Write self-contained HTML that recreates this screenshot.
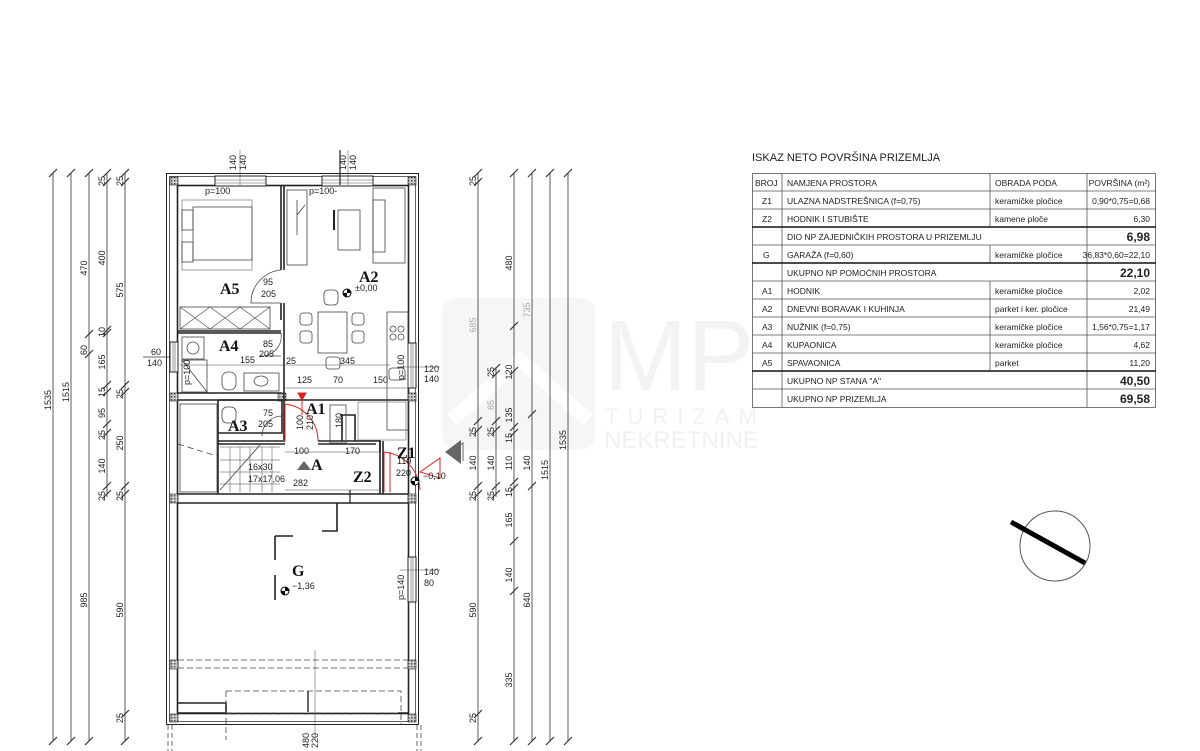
<!DOCTYPE html>
<html><head><meta charset="utf-8"><style>
html,body{margin:0;padding:0;background:#fff}
svg{display:block}
text{font-family:"Liberation Sans",sans-serif;fill:#222}
.s{font-size:9px}
.r{font-family:"Liberation Serif",serif;font-weight:bold;font-size:16px;fill:#111}
.t{font-size:8.5px;fill:#222}
.b{font-size:12px;font-weight:bold}
</style></head><body>
<svg width="1200" height="751" viewBox="0 0 1200 751" xmlns="http://www.w3.org/2000/svg">
<defs>
<pattern id="h" width="3" height="3" patternUnits="userSpaceOnUse"><rect width="3" height="3" fill="#ccc"/><rect width="1.5" height="1.5" fill="#555"/></pattern>
</defs>
<!-- watermark -->
<g opacity="0.5">
<rect x="442" y="298" width="153" height="152" rx="14" fill="#eee"/>
<path d="M452 420 L520 360 L588 420" stroke="#fff" stroke-width="14" fill="none"/>
<text x="604" y="390" style="font-size:100px;fill:#e8e8e8" textLength="150">MP</text>
<text x="605" y="424" style="font-size:22px;fill:#e4e4e4;letter-spacing:9px">TURIZAM</text>
<text x="604" y="448" style="font-size:24px;fill:#e4e4e4">NEKRETNINE</text>
</g>

<!-- left dimensions -->
<g stroke="#333" stroke-width="0.8" fill="none">
<line x1="53" y1="173" x2="53" y2="741"/>
<line x1="71" y1="173" x2="71" y2="741"/>
<line x1="89" y1="173" x2="89" y2="741"/>
<line x1="107" y1="173" x2="107" y2="497"/>
<line x1="125" y1="173" x2="125" y2="741"/>
<g stroke-width="1.2">
<path d="M49 177l8-8M67 177l8-8M85 177l8-8M103 177l8-8M121 177l8-8M103 186l8-8M121 186l8-8
M49 745l8-8M67 745l8-8M85 745l8-8M121 745l8-8M121 718l8-8
M103 334l8-8M103 337l8-8M85 338l8-8M85 358l8-8M103 389l8-8M103 396l8-8M121 396l8-8M121 389l8-8M103 428l8-8M103 437l8-8
M103 490l8-8M103 498l8-8M121 490l8-8M121 498l8-8"/>
</g>
</g>
<g class="s">
<text transform="translate(51,400) rotate(-90)" text-anchor="middle">1535</text>
<text transform="translate(69,392) rotate(-90)" text-anchor="middle">1515</text>
<text transform="translate(87,268) rotate(-90)" text-anchor="middle">470</text>
<text transform="translate(87,600) rotate(-90)" text-anchor="middle">985</text>
<text transform="translate(87,350) rotate(-90)" text-anchor="middle">60</text>
<text transform="translate(105,258) rotate(-90)" text-anchor="middle">400</text>
<text transform="translate(105,332) rotate(-90)" text-anchor="middle">10</text>
<text transform="translate(105,362) rotate(-90)" text-anchor="middle">165</text>
<text transform="translate(105,392) rotate(-90)" text-anchor="middle">15</text>
<text transform="translate(105,413) rotate(-90)" text-anchor="middle">95</text>
<text transform="translate(105,435) rotate(-90)" text-anchor="middle">25</text>
<text transform="translate(105,466) rotate(-90)" text-anchor="middle">140</text>
<text transform="translate(105,496) rotate(-90)" text-anchor="middle">25</text>
<text transform="translate(123,181) rotate(-90)" text-anchor="middle">25</text>
<text transform="translate(105,181) rotate(-90)" text-anchor="middle">25</text>
<text transform="translate(123,290) rotate(-90)" text-anchor="middle">575</text>
<text transform="translate(123,394) rotate(-90)" text-anchor="middle">25</text>
<text transform="translate(123,443) rotate(-90)" text-anchor="middle">250</text>
<text transform="translate(123,496) rotate(-90)" text-anchor="middle">25</text>
<text transform="translate(123,610) rotate(-90)" text-anchor="middle">590</text>
<text transform="translate(123,718) rotate(-90)" text-anchor="middle">25</text>
<text x="151" y="355">60</text><text x="147" y="366">140</text>
</g>
<line x1="143" y1="357" x2="178" y2="357" stroke="#333" stroke-width="0.7"/>

<!-- right dimensions -->
<g stroke="#333" stroke-width="0.8" fill="none">
<line x1="478" y1="173" x2="478" y2="741"/>
<line x1="496" y1="367" x2="496" y2="497"/>
<line x1="514" y1="173" x2="514" y2="741"/>
<line x1="532" y1="173" x2="532" y2="741"/>
<line x1="550" y1="173" x2="550" y2="741"/>
<line x1="568" y1="173" x2="568" y2="741"/>
<path stroke-width="1.2" d="M474 177l8-8M474 186l8-8M510 177l8-8M528 177l8-8M546 177l8-8M564 177l8-8
M474 745l8-8M474 718l8-8M510 745l8-8M528 745l8-8M546 745l8-8M564 745l8-8
M510 330l8-8M492 372l8-8M492 378l8-8M510 375l8-8M474 425l8-8M474 434l8-8M492 425l8-8M492 434l8-8M510 431l8-8M510 437l8-8M528 418l8-8
M474 490l8-8M474 498l8-8M492 490l8-8M492 498l8-8M510 486l8-8M510 492l8-8M528 490l8-8M510 545l8-8M510 595l8-8"/>
</g>
<g class="s">
<text transform="translate(476,181) rotate(-90)" text-anchor="middle">25</text>
<text transform="translate(476,325) rotate(-90)" text-anchor="middle" style="fill:#aaa">685</text>
<text transform="translate(476,432) rotate(-90)" text-anchor="middle">25</text>
<text transform="translate(476,463) rotate(-90)" text-anchor="middle">140</text>
<text transform="translate(476,496) rotate(-90)" text-anchor="middle">25</text>
<text transform="translate(476,610) rotate(-90)" text-anchor="middle">590</text>
<text transform="translate(476,718) rotate(-90)" text-anchor="middle">25</text>
<text transform="translate(494,372) rotate(-90)" text-anchor="middle">25</text>
<text transform="translate(494,405) rotate(-90)" text-anchor="middle" style="fill:#aaa">85</text>
<text transform="translate(494,432) rotate(-90)" text-anchor="middle">25</text>
<text transform="translate(494,463) rotate(-90)" text-anchor="middle">140</text>
<text transform="translate(494,496) rotate(-90)" text-anchor="middle">25</text>
<text transform="translate(512,263) rotate(-90)" text-anchor="middle">480</text>
<text transform="translate(512,372) rotate(-90)" text-anchor="middle">120</text>
<text transform="translate(512,415) rotate(-90)" text-anchor="middle">135</text>
<text transform="translate(512,438) rotate(-90)" text-anchor="middle">15</text>
<text transform="translate(512,463) rotate(-90)" text-anchor="middle">110</text>
<text transform="translate(512,492) rotate(-90)" text-anchor="middle">15</text>
<text transform="translate(512,520) rotate(-90)" text-anchor="middle">165</text>
<text transform="translate(512,575) rotate(-90)" text-anchor="middle">140</text>
<text transform="translate(512,680) rotate(-90)" text-anchor="middle">335</text>
<text transform="translate(530,310) rotate(-90)" text-anchor="middle" style="fill:#aaa">735</text>
<text transform="translate(530,463) rotate(-90)" text-anchor="middle">140</text>
<text transform="translate(530,600) rotate(-90)" text-anchor="middle">640</text>
<text transform="translate(548,470) rotate(-90)" text-anchor="middle">1515</text>
<text transform="translate(566,440) rotate(-90)" text-anchor="middle">1535</text>
</g>
<!-- section marker -->
<path d="M445 452 L461 440 L461 464 Z" fill="#666"/>
<path d="M450 452 L463 443 L463 461" fill="none" stroke="#666"/>

<!-- building -->
<g fill="none" stroke="#222">
<rect x="166.5" y="173.5" width="252" height="551" stroke-width="1"/>
<rect x="169.5" y="176.5" width="246" height="545" stroke-width="0.7"/>
<rect x="177.5" y="185.5" width="231" height="528" stroke-width="1.6"/>
</g>
<!-- top walls -->
<g fill="#fff" stroke="#222" stroke-width="1">
<rect x="215" y="176" width="51" height="10"/><rect x="322" y="176" width="51" height="10"/>
<rect x="408" y="343" width="8" height="45"/><rect x="170" y="342" width="8" height="30"/>
<rect x="408" y="557" width="8" height="45"/>
</g>
<g stroke="#555" stroke-width="0.6">
<line x1="215" y1="180" x2="266" y2="180"/><line x1="215" y1="183" x2="266" y2="183"/>
<line x1="322" y1="180" x2="373" y2="180"/><line x1="322" y1="183" x2="373" y2="183"/>
<line x1="411" y1="343" x2="411" y2="388"/><line x1="413" y1="343" x2="413" y2="388"/>
<line x1="173" y1="342" x2="173" y2="372"/><line x1="175" y1="342" x2="175" y2="372"/>
<line x1="411" y1="557" x2="411" y2="602"/><line x1="413" y1="557" x2="413" y2="602"/>
</g>
<!-- columns hatch -->
<g fill="url(#h)" stroke="#222" stroke-width="0.6">
<rect x="170" y="177" width="8" height="8"/><rect x="408" y="177" width="8" height="8"/>
<rect x="170" y="393" width="8" height="8"/><rect x="408" y="393" width="8" height="8"/>
<rect x="278" y="393" width="8" height="8"/>
<rect x="170" y="494" width="8" height="9"/><rect x="408" y="494" width="8" height="9"/>
<rect x="170" y="660" width="8" height="9"/><rect x="408" y="660" width="8" height="9"/>
<rect x="170" y="714" width="8" height="8"/><rect x="408" y="714" width="8" height="8"/>
</g>
<!-- interior walls -->
<g fill="none" stroke="#222" stroke-width="1.6">
<path d="M281 185 V270 M281 303 V320 M284 185 V270 M284 303 V440"/>
<path d="M178 331 H281 M178 333 H281"/>
<path d="M178 393 H282 M178 400 H282"/>
<path d="M218 400 V494 M218 400 H282 V433 H218"/>
<path d="M285 400 H408"/>
<path d="M218 441 H285 M318 441 H380 V452 M218 444 H285 M318 444 H376"/>
<path d="M380 441 V494 M383 441 V494"/>
<path d="M178 494 H408 M178 503 H408"/>
<path d="M178 713 H226 M398 713 H408 M178 703 H226 V713"/>
<path d="M340 415 H355 V441 M342 415 V441"/>
</g>
<g fill="none" stroke="#444" stroke-width="0.8">
<!-- stairs -->
<rect x="180" y="404" width="37" height="88"/>
<path d="M178 444 L217 456" stroke-dasharray="6,4"/>
<path d="M220 490 L260 445"/>
<path d="M220 447 H280 M220 460 H280 M220 472 H280 M220 484 H280" stroke-width="0.5"/>
<path d="M230 447 V492 M240 447 V492 M250 447 V492 M262 447 V492 M272 447 V492" stroke-width="0.5"/>
<!-- furniture A5 -->
<rect x="193" y="207" width="59" height="53"/>
<rect x="182" y="210" width="11" height="20"/><rect x="182" y="242" width="11" height="20"/>
<rect x="182" y="200" width="70" height="70" stroke-width="0.5"/>
<rect x="180" y="307" width="90" height="22"/>
<path d="M180 307 L210 329 M210 307 L180 329 M210 307 L240 329 M240 307 L210 329 M240 307 L270 329 M270 307 L240 329" stroke-width="0.6"/>
<!-- door arcs -->
<path d="M281 270 A33 33 0 0 0 251 303 H281"/>
<path d="M281 333 A20 20 0 0 1 259 356 H281"/>
<!-- A2 furniture -->
<rect x="373" y="188" width="32" height="75"/><rect x="373" y="200" width="12" height="52"/>
<rect x="287" y="190" width="20" height="75"/>
<path d="M297 200 V235 M297 215 L305 205" />
<rect x="338" y="210" width="22" height="40"/>
<path d="M334 210 V230" stroke-width="2" stroke="#222"/>
<rect x="318" y="312" width="29" height="41"/>
<rect x="324" y="290" width="14" height="15" rx="4"/>
<rect x="300" y="313" width="12" height="12" rx="3"/><rect x="300" y="331" width="12" height="12" rx="3"/>
<rect x="352" y="313" width="12" height="12" rx="3"/><rect x="352" y="331" width="12" height="12" rx="3"/>
<rect x="326" y="357" width="14" height="12" rx="3"/>
<rect x="387" y="312" width="21" height="118"/>
<circle cx="393" cy="329" r="3"/><circle cx="401" cy="329" r="3"/><circle cx="393" cy="337" r="3"/><circle cx="401" cy="337" r="3"/>
<rect x="389" y="368" width="16" height="12" rx="3"/>
<!-- A4 -->
<rect x="182" y="337" width="22" height="22"/><circle cx="193" cy="348" r="6"/>
<rect x="182" y="360" width="25" height="32"/>
<path d="M182 360 L207 392"/>
<rect x="222" y="372" width="14" height="18" rx="6"/>
<rect x="244" y="373" width="35" height="18"/><ellipse cx="261" cy="381" rx="7" ry="5"/>
<!-- A3 -->
<rect x="222" y="407" width="14" height="16" rx="5"/>
<path d="M282 416 A20 20 0 0 0 262 436"/>
<!-- A1 right unit -->
<rect x="330" y="405" width="16" height="38"/>
<rect x="358" y="402" width="48" height="38" stroke-width="0.5"/>
<!-- garage -->
<path d="M275 536 V560 M275 575 V600 M275 536 H293 M322 531 H337 V503" stroke="#222" stroke-width="1.6"/>
<path d="M178 660 H408 M178 668 H408 M226 691 H401 V725 M226 691 V740 M226 713 H398 M308 691 V710" stroke-dasharray="6,3"/>
<path d="M308 691 V712" stroke-width="1.4" stroke="#222"/>
<path d="M168 725 V751 M172 725 V751 M417 725 V751 M421 725 V751" stroke-dasharray="5,3"/>
<line x1="315" y1="650" x2="315" y2="740" stroke-width="0.5"/>
<line x1="350" y1="490" x2="350" y2="503" stroke="#222" stroke-width="1.2"/>
<line x1="340" y1="150" x2="340" y2="185" stroke="#222" stroke-width="1.2"/>
<line x1="240" y1="150" x2="240" y2="185" stroke-width="0.5"/>
<line x1="348" y1="150" x2="348" y2="185" stroke-width="0.5"/>
<line x1="400" y1="367" x2="440" y2="367" stroke-width="0.6"/>
<line x1="400" y1="570" x2="440" y2="570" stroke-width="0.6"/>
<!-- dim lines inside -->
<path d="M180 365 H390 M285 388 H408 M285 452 H380 M285 490 H380" stroke-width="0.6"/>
</g>
<!-- red door -->
<g fill="none" stroke="#d22" stroke-width="1">
<path d="M285 404 V441 M285 404 A37 37 0 0 1 318 441"/>
<path d="M298 393 L302 400 L306 393 Z M302 400 V415" fill="#d22"/>
<path d="M384 452 V492 M390 452 V492 M384 452 A40 40 0 0 1 420 490"/>
<path d="M420 472 L440 458 V478 Z"/>
</g>
<!-- markers -->
<g>
<circle cx="347" cy="293" r="4" fill="#fff" stroke="#000"/><path d="M347 289 A4 4 0 0 1 351 293 H347Z M347 297 A4 4 0 0 1 343 293 H347Z" fill="#000"/>
<circle cx="285" cy="591" r="4" fill="#fff" stroke="#000"/><path d="M285 587 A4 4 0 0 1 289 591 H285Z M285 595 A4 4 0 0 1 281 591 H285Z" fill="#000"/>
<circle cx="415" cy="481" r="4" fill="#fff" stroke="#000"/><path d="M415 477 A4 4 0 0 1 419 481 H415Z M415 485 A4 4 0 0 1 411 481 H415Z" fill="#000"/>
<path d="M297 470 L304 461 L311 470Z" fill="#666"/>
</g>
<g class="s">
<text x="205" y="194">p=100</text><text x="309" y="194">p=100-</text>
<text x="263" y="285">95</text><text x="261" y="297">205</text>
<text x="263" y="347">85</text><text x="259" y="357">205</text><text x="286" y="364">25</text>
<text x="240" y="363">155</text><text x="340" y="364">345</text>
<text x="297" y="383">125</text><text x="333" y="383">70</text><text x="373" y="383">150</text>
<text x="263" y="416">75</text><text x="258" y="427">205</text>
<text x="294" y="454">100</text><text x="345" y="454">170</text><text x="293" y="486">282</text>
<text x="248" y="470">16x30</text><text x="248" y="482">17x17,06</text>
<text x="397" y="464">110</text><text x="396" y="476">220</text>
<text x="423" y="479">−0,10</text>
<text x="355" y="291">±0,00</text><text x="292" y="589">−1,36</text>
<text x="424" y="372">120</text><text x="424" y="382">140</text>
<text x="424" y="575">140</text><text x="424" y="586">80</text>
<text transform="translate(236,170) rotate(-90)">140</text><text transform="translate(246,170) rotate(-90)">140</text>
<text transform="translate(346,170) rotate(-90)">140</text><text transform="translate(356,170) rotate(-90)">140</text>
<text transform="translate(190,385) rotate(-90)">p=100</text>
<text transform="translate(404,380) rotate(-90)">p=100</text>
<text transform="translate(404,600) rotate(-90)">p=140</text>
<text transform="translate(303,430) rotate(-90)">100</text><text transform="translate(313,430) rotate(-90)">210</text>
<text transform="translate(342,428) rotate(-90)">180</text>
<text transform="translate(309,748) rotate(-90)">480</text><text transform="translate(318,748) rotate(-90)">220</text>
</g>
<g>
<text class="r" x="220" y="294">A5</text><text class="r" x="359" y="282">A2</text>
<text class="r" x="219" y="351">A4</text><text class="r" x="306" y="414">A1</text>
<text class="r" x="228" y="431">A3</text><text class="r" x="311" y="470">A</text>
<text class="r" x="353" y="482">Z2</text><text class="r" x="397" y="458">Z1</text>
<text class="r" x="292" y="576">G</text>
</g>

<!-- north -->
<circle cx="1055" cy="546" r="35" fill="none" stroke="#555" stroke-width="1"/>
<line x1="1011" y1="522" x2="1085" y2="563" stroke="#000" stroke-width="5"/>

<!-- table -->
<text x="752" y="161" style="font-size:11px">ISKAZ NETO POVRŠINA PRIZEMLJA</text>
<g stroke="#555" fill="none" stroke-width="0.8">
<rect x="752.5" y="173.5" width="403" height="234"/>
<path d="M782 173 V407 M990 173 V227 M990 245 V263 M990 281 V371 M1087 173 V407"/>
<path d="M752 191H1156 M752 209H1156 M752 245H1156 M752 281H1156 M752 299H1156 M752 317H1156 M752 335H1156 M752 353H1156 M752 389H1156" />
<path d="M752 227H1156 M752 263H1156 M752 371H1156" stroke="#111" stroke-width="1.4"/>
</g>
<g class="t">
<text x="755" y="186">BROJ</text><text x="787" y="186">NAMJENA PROSTORA</text><text x="995" y="186">OBRADA PODA</text><text x="1150" y="186" text-anchor="end">POVRŠINA (m²)</text>
<text x="762" y="204">Z1</text><text x="787" y="204">ULAZNA NADSTREŠNICA (f=0,75)</text><text x="995" y="204">keramičke pločice</text><text x="1150" y="204" text-anchor="end">0,90*0,75=0,68</text>
<text x="762" y="222">Z2</text><text x="787" y="222">HODNIK I STUBIŠTE</text><text x="995" y="222">kamene ploče</text><text x="1150" y="222" text-anchor="end">6,30</text>
<text x="787" y="240">DIO NP ZAJEDNIČKIH PROSTORA U PRIZEMLJU</text>
<text x="763" y="258">G</text><text x="787" y="258">GARAŽA (f=0,60)</text><text x="995" y="258">keramičke pločice</text><text x="1150" y="258" text-anchor="end">36,83*0,60=22,10</text>
<text x="787" y="276">UKUPNO NP POMOĆNIH PROSTORA</text>
<text x="762" y="294">A1</text><text x="787" y="294">HODNIK</text><text x="995" y="294">keramičke pločice</text><text x="1150" y="294" text-anchor="end">2,02</text>
<text x="762" y="312">A2</text><text x="787" y="312">DNEVNI BORAVAK I KUHINJA</text><text x="995" y="312">parket i ker. pločice</text><text x="1150" y="312" text-anchor="end">21,49</text>
<text x="762" y="330">A3</text><text x="787" y="330">NUŽNIK (f=0,75)</text><text x="995" y="330">keramičke pločice</text><text x="1150" y="330" text-anchor="end">1,56*0,75=1,17</text>
<text x="762" y="348">A4</text><text x="787" y="348">KUPAONICA</text><text x="995" y="348">keramičke pločice</text><text x="1150" y="348" text-anchor="end">4,62</text>
<text x="762" y="366">A5</text><text x="787" y="366">SPAVAONICA</text><text x="995" y="366">parket</text><text x="1150" y="366" text-anchor="end">11,20</text>
<text x="787" y="384">UKUPNO NP STANA "A"</text>
<text x="787" y="402">UKUPNO NP PRIZEMLJA</text>
</g>
<g class="b">
<text x="1150" y="241" text-anchor="end">6,98</text>
<text x="1150" y="277" text-anchor="end">22,10</text>
<text x="1150" y="385" text-anchor="end">40,50</text>
<text x="1150" y="403" text-anchor="end">69,58</text>
</g>
</svg>
</body></html>
